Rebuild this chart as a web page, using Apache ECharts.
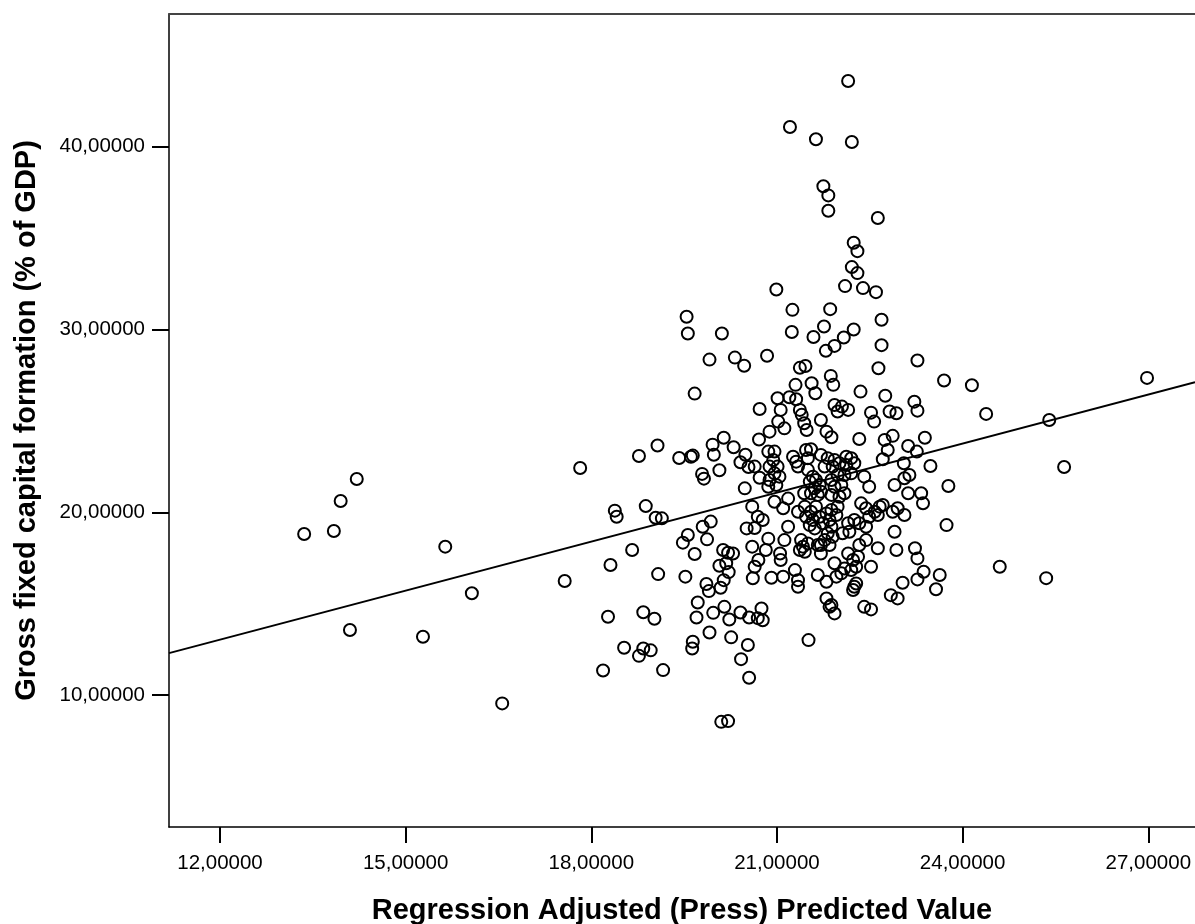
<!DOCTYPE html>
<html>
<head>
<meta charset="utf-8">
<script src="https://cdn.jsdelivr.net/npm/echarts@6/dist/echarts.min.js"></script>
<style>
  html, body { margin: 0; padding: 0; background: #fff; }
  #chart { width: 1195px; height: 924px; }
</style>
</head>
<body>
<div id="chart"></div>
<script>
// axis ticks
const xTicks = [12, 15, 18, 21, 24, 27]
const yTicks = [10, 20, 30, 40]

// [predicted value, gross fixed capital formation]
const scatterPoints = [
  // left, sparse
  [13.36, 18.81], [13.84, 18.98], [13.95, 20.62], [14.21, 21.82], [14.10, 13.56],
  [15.28, 13.19], [15.64, 18.12], [16.07, 15.57], [16.56, 9.55],
  // 17.5 - 20.7
  [19.67, 26.49], [20.72, 25.65], [18.77, 23.08], [19.07, 23.65], [17.82, 22.42],
  [19.42, 22.97], [19.61, 23.04], [19.64, 23.10], [19.96, 23.70], [20.14, 24.08],
  [20.30, 23.56], [19.98, 23.15], [20.49, 23.15], [20.41, 22.74], [20.54, 22.48],
  [20.07, 22.30], [19.79, 22.10], [19.82, 21.84], [20.48, 21.31], [20.72, 21.89],
  [20.71, 23.98], [18.38, 20.09], [18.41, 19.76], [18.88, 20.34], [19.04, 19.70],
  [19.14, 19.67], [19.93, 19.49], [19.80, 19.21], [19.56, 18.76], [19.48, 18.34],
  [19.87, 18.52], [19.67, 17.72], [18.66, 17.94], [18.31, 17.12], [17.57, 16.24],
  [19.08, 16.62], [19.52, 16.48], [20.13, 17.94], [20.21, 17.79], [20.29, 17.75],
  [20.07, 17.08], [20.18, 17.21], [20.22, 16.73], [20.14, 16.29], [20.09, 15.87],
  [19.86, 16.08], [19.90, 15.69], [20.51, 19.12], [20.64, 19.14], [20.60, 20.31],
  [20.60, 18.12], [20.70, 17.39], [20.61, 16.39], [19.72, 15.07], [19.70, 14.25],
  [19.97, 14.50], [20.15, 14.83], [20.23, 14.14], [20.41, 14.52], [20.55, 14.25],
  [20.69, 14.21], [18.27, 14.29], [18.84, 14.53], [19.02, 14.18], [19.91, 13.43],
  [20.26, 13.16], [20.53, 12.74], [20.42, 11.97], [20.55, 10.95], [19.64, 12.92],
  [19.63, 12.55], [18.53, 12.59], [18.84, 12.55], [18.77, 12.15], [18.96, 12.45],
  [18.19, 11.35], [19.16, 11.37], [20.10, 8.54], [20.21, 8.58],
  // upper part
  [22.15, 43.59], [21.21, 41.07], [21.63, 40.40], [22.21, 40.25], [21.75, 37.83],
  [21.83, 37.33], [21.83, 36.49], [22.63, 36.09], [22.24, 34.74], [22.30, 34.28],
  [22.21, 33.41], [22.30, 33.08], [22.10, 32.37], [22.39, 32.26], [22.60, 32.04],
  [20.99, 32.18], [21.25, 31.07], [21.86, 31.11], [22.69, 30.53], [19.54, 30.69],
  [19.56, 29.78], [20.11, 29.78], [21.24, 29.86], [21.76, 30.16], [21.59, 29.59],
  [22.24, 30.00], [22.08, 29.56], [21.93, 29.10], [21.79, 28.83], [22.69, 29.14],
  [23.27, 28.30], [19.91, 28.35], [20.32, 28.46], [20.47, 28.01], [20.84, 28.56],
  [21.37, 27.90], [21.46, 28.00], [22.64, 27.88],
  // dense centre
  [21.87, 27.46], [21.91, 26.97], [21.30, 26.97], [21.56, 27.06], [21.62, 26.51],
  [21.01, 26.24], [21.20, 26.29], [21.31, 26.18], [21.37, 25.60], [21.40, 25.33],
  [21.93, 25.87], [22.05, 25.78], [22.15, 25.60], [21.98, 25.51], [22.35, 26.60],
  [22.75, 26.37], [22.52, 25.45], [22.57, 24.96], [22.82, 25.51], [22.93, 25.42],
  [21.06, 25.60], [21.02, 24.96], [21.12, 24.59], [21.44, 24.87], [21.48, 24.50],
  [21.71, 25.05], [21.80, 24.41], [21.88, 24.10], [22.33, 24.01], [20.88, 24.41],
  [22.74, 23.96], [22.87, 24.18], [22.79, 23.41], [22.71, 22.90], [20.86, 23.32],
  [20.96, 23.32], [20.94, 22.86], [21.01, 22.50], [20.88, 22.50], [20.96, 22.13],
  [21.04, 21.95], [20.88, 21.77], [20.86, 21.40], [20.99, 21.49], [20.64, 22.50],
  [21.26, 23.04], [21.31, 22.77], [21.34, 22.50], [21.47, 23.41], [21.55, 23.45],
  [21.50, 22.96], [21.71, 23.14], [21.82, 22.96], [21.93, 22.86], [21.77, 22.50],
  [21.90, 22.50], [22.01, 22.68], [22.12, 23.04], [22.20, 22.96], [22.25, 22.68],
  [22.12, 22.59], [22.20, 22.13], [22.09, 22.04], [22.41, 21.95], [22.49, 21.40],
  [21.50, 22.32], [21.58, 21.95], [21.63, 21.77], [21.53, 21.68], [21.69, 21.49],
  [21.61, 21.31], [21.71, 21.13], [21.55, 21.04], [21.44, 21.04], [21.66, 20.95],
  [21.88, 21.77], [21.98, 22.04], [21.93, 21.40], [22.04, 21.49], [22.09, 21.04],
  [22.01, 20.85], [21.88, 20.95], [21.18, 20.75], [21.10, 20.22], [20.96, 20.58],
  [20.69, 19.76], [20.77, 19.58], [21.34, 20.03], [21.45, 20.31], [21.47, 19.76],
  [21.55, 20.03], [21.63, 20.31], [21.58, 19.58], [21.69, 19.76], [21.74, 19.40],
  [21.61, 19.12], [21.53, 19.30], [21.80, 19.94], [21.88, 20.13], [21.98, 20.31],
  [21.96, 19.85], [21.85, 19.58], [21.88, 19.21], [21.82, 18.85], [21.90, 18.66],
  [21.77, 18.48], [21.71, 18.21], [21.85, 18.21], [22.06, 18.85], [22.17, 18.94],
  [22.15, 19.40], [22.25, 19.58], [22.33, 19.40], [22.36, 20.49], [22.44, 20.22],
  [22.49, 19.76], [22.58, 20.03], [22.66, 20.31], [22.63, 19.85], [22.71, 20.40],
  [22.44, 19.21], [22.87, 20.03], [22.95, 20.22], [22.90, 18.94], [22.93, 17.94],
  [22.63, 18.03], [22.33, 18.21], [22.44, 18.48], [20.86, 18.56], [20.82, 17.94],
  [20.64, 17.02], [21.12, 18.48], [21.18, 19.21], [21.05, 17.75], [21.06, 17.39],
  [21.39, 18.48], [21.37, 17.94], [21.45, 17.84], [21.50, 18.30], [21.42, 18.12],
  [21.71, 17.75], [21.66, 18.21], [22.15, 17.75], [22.23, 17.39], [22.31, 17.57],
  [22.28, 17.02], [22.20, 16.84], [22.52, 17.02], [21.93, 17.21], [22.04, 16.66],
  [21.96, 16.48], [22.09, 16.93], [21.66, 16.57], [21.80, 16.20], [21.29, 16.84],
  [21.34, 16.29], [21.34, 15.93], [21.10, 16.48], [20.91, 16.42], [22.25, 15.93],
  [22.28, 16.11], [22.23, 15.75], [21.80, 15.29], [21.85, 14.83], [21.93, 14.47],
  [21.88, 14.93], [22.41, 14.83], [22.52, 14.69], [22.84, 15.47], [22.95, 15.29],
  [20.75, 14.74], [20.77, 14.10], [21.51, 13.01],
  // 23 - 25
  [23.70, 27.21], [24.15, 26.95], [24.38, 25.38], [23.22, 26.05], [23.27, 25.56],
  [23.39, 24.08], [23.12, 23.63], [23.26, 23.32], [23.05, 22.68], [23.14, 22.04],
  [23.06, 21.86], [23.48, 22.53], [22.90, 21.49], [23.12, 21.04], [23.33, 21.04],
  [23.36, 20.49], [23.77, 21.44], [23.06, 19.85], [23.74, 19.30], [23.23, 18.03],
  [23.27, 17.48], [23.37, 16.75], [23.27, 16.33], [23.03, 16.15], [23.63, 16.57],
  [23.57, 15.79], [24.60, 17.02],
  // right, sparse
  [25.40, 25.05], [25.64, 22.48], [26.98, 27.35], [25.35, 16.40]
]

// fit line end points (at the plot edges)
const fitLineX = [11.176, 27.755]
const fitLineY = [12.30, 27.12]

const chartDom = document.getElementById('chart')
const myChart = echarts.init(chartDom)

const fontFamily = '"Liberation Sans", Arial, sans-serif'
const fmt = function (v) {
  return v.toFixed(5).replace('.', ',')
}

var option = {
  animation: false,
  grid: {
    left: 169,
    right: 0,
    top: 14,
    bottom: 97,
    containLabel: false,
    outerBoundsMode: 'none'
  },
  xAxis: [
    {
      type: 'value',
      min: 11.176,
      max: 27.755,
      name: 'Regression Adjusted (Press) Predicted Value',
      nameLocation: 'middle',
      nameGap: 69,
      nameTextStyle: {
        fontFamily: fontFamily,
        fontSize: 29,
        fontWeight: 'bold',
        color: '#000'
      },
      splitLine: {show: false},
      axisLine: {onZero: false, lineStyle: {color: '#000', width: 1.5}},
      axisTick: {
        customValues: xTicks,
        length: 16,
        lineStyle: {color: '#000', width: 2}
      },
      axisLabel: {
        customValues: xTicks,
        margin: 26,
        fontFamily: fontFamily,
        fontSize: 20.5,
        color: '#000',
        formatter: fmt
      }
    },
    {
      type: 'value',
      position: 'top',
      min: 11.176,
      max: 27.755,
      splitLine: {show: false},
      axisLine: {onZero: false, lineStyle: {color: '#444', width: 2}},
      axisTick: {show: false},
      axisLabel: {show: false}
    }
  ],
  yAxis: {
    type: 'value',
    min: 2.79,
    max: 47.25,
    name: 'Gross fixed capital formation (% of GDP)',
    nameLocation: 'middle',
    nameGap: 128,
    nameTextStyle: {
      fontFamily: fontFamily,
      fontSize: 29,
      fontWeight: 'bold',
      color: '#000'
    },
    splitLine: {show: false},
    axisLine: {show: true, onZero: false, lineStyle: {color: '#000', width: 1.5}},
    axisTick: {
      show: true,
      customValues: yTicks,
      length: 17,
      lineStyle: {color: '#000', width: 2}
    },
    axisLabel: {
      customValues: yTicks,
      margin: 24,
      fontFamily: fontFamily,
      fontSize: 20.5,
      color: '#000',
      formatter: fmt
    }
  },
  series: [
    {
      type: 'line',
      data: [[fitLineX[0], fitLineY[0]], [fitLineX[1], fitLineY[1]]],
      showSymbol: false,
      lineStyle: {color: '#000', width: 2},
      z: 1
    },
    {
      type: 'scatter',
      data: scatterPoints,
      symbol: 'circle',
      symbolSize: 12,
      itemStyle: {
        color: 'rgba(0,0,0,0)',
        borderColor: '#000',
        borderWidth: 2,
        opacity: 1
      },
      z: 2
    }
  ]
}

option && myChart.setOption(option)
</script>
</body>
</html>
